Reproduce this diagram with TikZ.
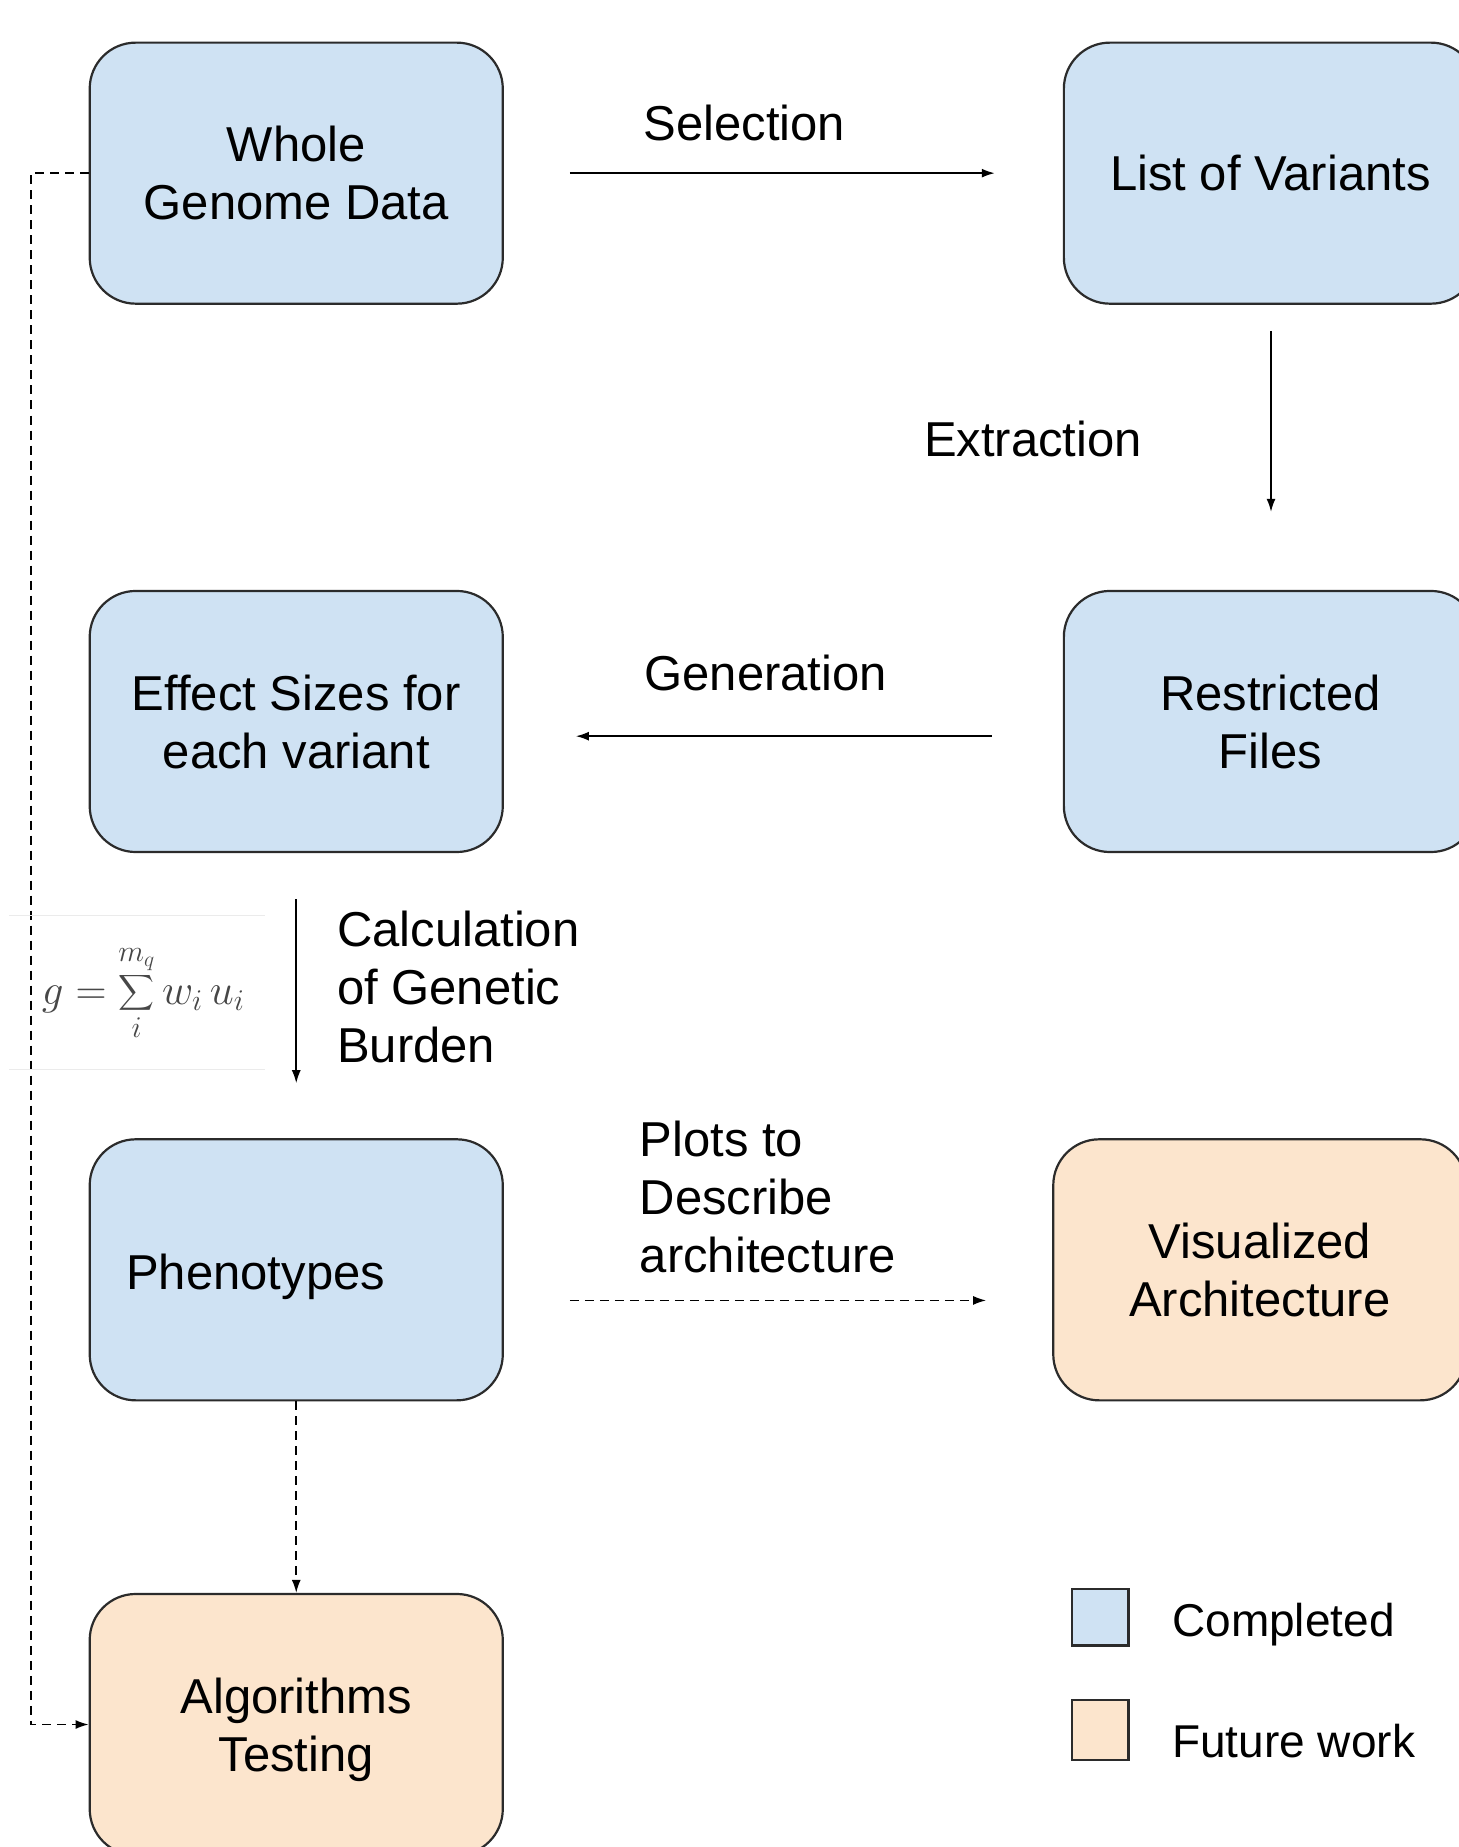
\RequirePackage{fix-cm}
\documentclass[tikz,border=0pt]{standalone}
\usepackage{exscale}
\usepackage{fontspec}
\setmainfont{Liberation Sans}
\usetikzlibrary{arrows.meta}
\definecolor{doneblue}{HTML}{CFE2F3}
\definecolor{futureorange}{HTML}{FCE5CD}
\definecolor{edgegray}{HTML}{2B2B2B}
\begin{document}
\begin{tikzpicture}[x=1.1777pt,y=-1.1777pt,
  box/.style={draw=edgegray,line width=2.2pt,rounded corners=46pt,minimum width=413pt,minimum height=261pt,inner sep=0pt,align=center,font=\fontsize{49}{58}\selectfont},
  done/.style={box,fill=doneblue},
  future/.style={box,fill=futureorange},
  lbl/.style={font=\fontsize{49}{58}\selectfont,inner sep=0pt},
  leglbl/.style={font=\fontsize{46}{55}\selectfont,inner sep=0pt},
  conn/.style={line width=1.6pt,-{Latex[length=13pt,width=9pt]}},
  dconn/.style={conn,dash pattern=on 9pt off 6pt},
  legbox/.style={draw=edgegray,line width=2.2pt,minimum width=56.5pt,inner sep=0pt}]
\useasboundingbox (0,0) rectangle (1238,1568);
% boxes
\node[done] (wg) at (251.5,147) {Whole\\Genome Data};
\node[done] (lv) at (1078.5,147) {List of Variants};
\node[done] (rf) at (1078.5,612.5) {Restricted\\Files};
\node[done] (es) at (251.5,612.5) {Effect Sizes for\\each variant};
\node[done,label={[lbl,xshift=-40.6pt,yshift=-7pt]center:Phenotypes}] (ph) at (251.5,1078) {};
\node[future,text depth=0pt] (alg) at (251.5,1464) {Algorithms\\Testing};
\node[future] (va) at (1069.5,1078) {Visualized\\Architecture};
% connectors
\draw[conn,shorten <=66pt,shorten >=68pt] (wg.east) -- (lv.west);
\node[lbl] (selection) at (632,104) {Selection};
\draw[conn,shorten <=26pt,shorten >=78pt] ([xshift=0.6pt]lv.south) -- ([xshift=0.6pt]rf.north);
\node[lbl] (extraction) at (877,373) {Extraction};
\draw[conn,shorten <=71pt,shorten >=72pt] ([yshift=-14.7pt]rf.west) -- ([yshift=-14.7pt]es.east);
\node[lbl] (generation) at (650,571) {Generation};
\draw[conn,shorten <=46pt,shorten >=55pt] (es.south) -- (ph.north);
\node[lbl,anchor=west,align=left] (calc) at (286,838) {Calculation\\of Genetic\\Burden};
\draw[dconn,shorten <=66pt,shorten >=66pt] ([yshift=-30.6pt]ph.east) -- ([yshift=-30.6pt]va.west);
\node[lbl,anchor=west,align=left] (plots) at (543,1016) {Plots to\\Describe\\architecture};
\draw[dconn] (ph.south) -- (alg.north);
\draw[dconn,rounded corners=0pt] (wg.west) -- ++(-49,0) coordinate (lc) |- (alg.west);
% formula
\draw[black!8,line width=0.8pt] (8,777) -- (225,777);
\draw[black!8,line width=0.8pt] (8,908) -- (225,908);
\node[text=black!72,inner sep=0pt,font=\fontsize{43}{52}\selectfont] (formula) at (121.5,843) {$\displaystyle g=\sum_{i}^{m_q} w_i\,u_i$};
% legend
\node[legbox,fill=doneblue,minimum height=56.5pt] (legdone) at (934,1373) {};
\node[leglbl,anchor=west] (legdonetext) at (995,1379) {Completed};
\node[legbox,fill=futureorange,minimum height=60pt] (legfut) at (934,1468.5) {};
\node[leglbl,anchor=west] (legfuttext) at (995,1478) {Future work};
\end{tikzpicture}
\end{document}
